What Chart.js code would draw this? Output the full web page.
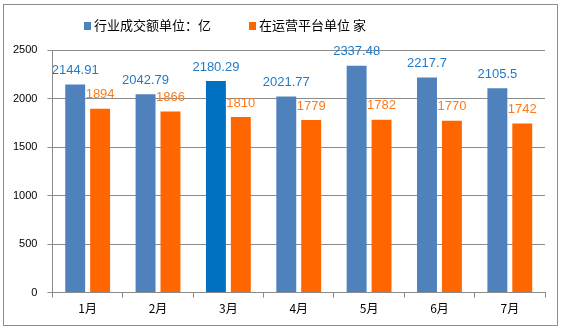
<!DOCTYPE html>
<html>
<head>
<meta charset="utf-8">
<script src="https://cdn.jsdelivr.net/npm/chart.js@4/dist/chart.umd.min.js"></script>
<style>
  html, body { margin: 0; padding: 0; background: #fff; }
  #wrap { width: 562px; height: 331px; }
</style>
</head>
<body>
<div id="wrap"><canvas id="result_report" width="562" height="331"></canvas></div>
<script>
const months = ['1月', '2月', '3月', '4月', '5月', '6月', '7月']
const volume = [2144.91, 2042.79, 2180.29, 2021.77, 2337.48, 2217.7, 2105.5]
const platforms = [1894, 1866, 1810, 1779, 1782, 1770, 1742]
const volumeLabel = '行业成交额单位：亿'
const platformLabel = '在运营平台单位 家'
const yTicks = [0, 500, 1000, 1500, 2000, 2500]

const blue = '#4f81bd'
const orange = '#ff6600'
const gridGrey = '#8c8c8c'
const cjk = '"Noto Sans CJK SC", "Liberation Sans", sans-serif'

// frame round the whole picture, white background
const framePlugin = {
  id: 'frame',
  beforeDraw(chart) {
    const c = chart.ctx
    c.save()
    c.fillStyle = '#fff'
    c.fillRect(0, 0, chart.width, chart.height)
    c.strokeStyle = gridGrey
    c.lineWidth = 1
    c.strokeRect(3.5, 4.5, 554, 321)
    c.restore()
  }
}

// legend drawn by hand so it sits where the original has it
const legendPlugin = {
  id: 'handLegend',
  afterDraw(chart) {
    const c = chart.ctx
    c.save()
    c.font = '13px ' + cjk
    c.textBaseline = 'middle'
    c.fillStyle = blue
    c.fillRect(84, 22, 7, 8)
    c.fillStyle = '#000'
    c.fillText(chart.data.datasets[0].label, 94, 25)
    c.fillStyle = orange
    c.fillRect(249, 22, 7, 8)
    c.fillStyle = '#000'
    c.fillText(chart.data.datasets[1].label, 259, 25)
    c.restore()
  }
}

// value labels above every bar
const valueLabels = {
  id: 'valueLabels',
  afterDatasetsDraw(chart) {
    const c = chart.ctx
    const colors = ['#1f7ac8', '#ff7a1a']
    c.save()
    c.font = '13px "Liberation Sans", Arial, sans-serif'
    c.textAlign = 'center'
    c.textBaseline = 'middle'
    chart.data.datasets.forEach((ds, i) => {
      const meta = chart.getDatasetMeta(i)
      c.fillStyle = colors[i]
      meta.data.forEach((bar, j) => {
        c.fillText(String(ds.data[j]), bar.x, bar.y - 14)
      })
    })
    c.restore()
  }
}

const ctx = document.getElementById('result_report')
new Chart(ctx, {
  type: 'bar',
  data: {
    labels: months,
    datasets: [{
      label: volumeLabel,
      data: volume,
      backgroundColor: volume.map((v, i) => i === 2 ? '#0070c0' : blue),
      categoryPercentage: 0.708,
      barPercentage: 0.8
    }, {
      label: platformLabel,
      data: platforms,
      backgroundColor: orange,
      categoryPercentage: 0.708,
      barPercentage: 0.8
    }]
  },
  options: {
    responsive: false,
    animation: false,
    layout: { padding: { left: 3, right: 17, top: 50, bottom: 11 } },
    plugins: {
      legend: { display: false },
      tooltip: { enabled: false }
    },
    scales: {
      x: {
        grid: { display: true, drawOnChartArea: false, color: gridGrey, tickLength: 5, offset: true },
        border: { color: gridGrey },
        ticks: { color: '#000', font: { size: 12, family: cjk }, padding: 4 }
      },
      y: {
        min: 0,
        max: 2500,
        afterBuildTicks(axis) { axis.ticks = yTicks.map(v => ({ value: v })) },
        grid: { color: gridGrey, tickLength: 5 },
        border: { color: gridGrey },
        ticks: {
          color: '#000',
          font: { size: 11, family: '"Liberation Sans", Arial, sans-serif' },
          padding: 10,
          callback: (v) => String(v)
        }
      }
    }
  },
  plugins: [framePlugin, valueLabels, legendPlugin]
})
</script>
</body>
</html>
